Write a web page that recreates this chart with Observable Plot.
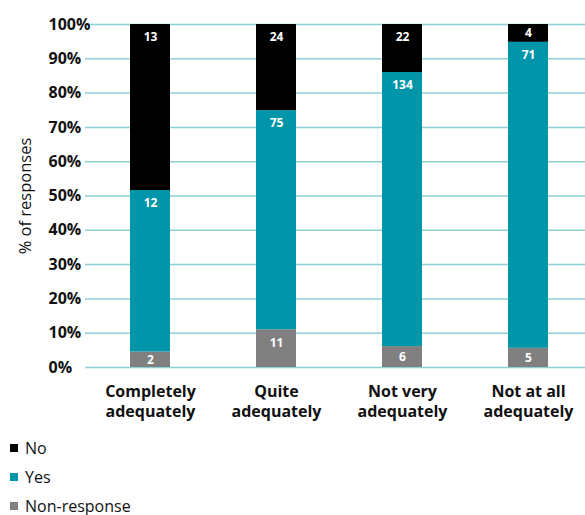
<!DOCTYPE html>
<html>
<head>
<meta charset="utf-8">
<script src="https://cdn.jsdelivr.net/npm/d3@7"></script>
<script src="https://cdn.jsdelivr.net/npm/@observablehq/plot@0.6"></script>
<style>
  body { margin: 0; background: #fff; font-family: "Open Sans", sans-serif; }
  #legend { margin-top: 5px; }
  .row { display: flex; align-items: center; height: 29px; padding-left: 10px; font-size: 16px; color: #111; }
  .sw { width: 8px; height: 8px; margin-right: 7px; }
</style>
</head>
<body>
<div id="chart"></div>
<div id="legend"></div>
<script>
// Data (percent of responses, labels are counts)
const categories = ["Completely adequately", "Quite adequately", "Not very adequately", "Not at all adequately"];
const categoryLines = ["Completely\nadequately", "Quite\nadequately", "Not very\nadequately", "Not at all\nadequately"];
const seriesNames = ["Non-response", "Yes", "No"];
const nonResponsePct = [4.5, 11, 6.1, 5.6];
const yesPct = [47.1, 63.9, 79.9, 89.2];
const noPct = [48.4, 25.1, 14, 5.2];
const nonResponseCount = [2, 11, 6, 5];
const yesCount = [12, 75, 134, 71];
const noCount = [13, 24, 22, 4];
const yTicks = [0, 10, 20, 30, 40, 50, 60, 70, 80, 90, 100];
const yTitle = "% of responses";
const colors = { "No": "#000000", "Yes": "#0095a8", "Non-response": "#808080" };
const legendOrder = ["No", "Yes", "Non-response"];

const pcts = [nonResponsePct, yesPct, noPct];
const counts = [nonResponseCount, yesCount, noCount];
const rows = [];
categories.forEach((c, i) => {
  let base = 0;
  seriesNames.forEach((s, j) => {
    const v = pcts[j][i];
    rows.push({ cat: c, series: s, y1: base, y2: base + v, count: counts[j][i] });
    base += v;
  });
});

const labelMap = new Map(categories.map((c, i) => [c, categoryLines[i]]));

const chart = Plot.plot({
  width: 585,
  height: 428,
  marginTop: 24,
  marginBottom: 61,
  marginLeft: 85,
  marginRight: 0,
  style: { fontFamily: "Open Sans, sans-serif", background: "#fff" },
  x: { domain: categories, range: [130, 548], paddingInner: 0.683, paddingOuter: 0, axis: null },
  y: { domain: [0, 100], axis: null },
  color: { domain: Object.keys(colors), range: Object.values(colors) },
  marks: [
    Plot.ruleY(yTicks, { stroke: "#8dd0d7", strokeWidth: 1.5 }),
    Plot.axisY({
      ticks: yTicks, tickSize: 0, tickPadding: 37, textAnchor: "start",
      tickFormat: d => d + "%", fontSize: 16, fontWeight: "bold", fill: "#111",
      letterSpacing: "-0.4px", label: null
    }),
    Plot.text([yTitle], {
      frameAnchor: "left", textAnchor: "middle", lineAnchor: "middle",
      rotate: -90, dx: -60, text: d => d,
      fontSize: 16.5, fill: "#111"
    }),
    Plot.barY(rows, { x: "cat", y1: "y1", y2: "y2", fill: d => colors[d.series] }),
    Plot.text(rows, {
      x: "cat",
      y: d => d.y2 - Math.min(3.8, (d.y2 - d.y1) / 2),
      text: d => String(d.count),
      fill: "white", fontWeight: "bold", fontSize: 12, letterSpacing: "-0.3px"
    }),
    Plot.text(categories, {
      x: d => d, frameAnchor: "bottom", lineAnchor: "top", dy: 15,
      text: d => labelMap.get(d), lineHeight: 1.25,
      fontSize: 16, fontWeight: "bold", fill: "#111", letterSpacing: "-0.4px"
    })
  ]
});
document.getElementById("chart").appendChild(chart);

const legend = document.getElementById("legend");
legendOrder.forEach(name => {
  const row = document.createElement("div");
  row.className = "row";
  const sw = document.createElement("span");
  sw.className = "sw";
  sw.style.background = colors[name];
  const t = document.createElement("span");
  t.textContent = name;
  row.appendChild(sw);
  row.appendChild(t);
  legend.appendChild(row);
});
</script>
</body>
</html>
